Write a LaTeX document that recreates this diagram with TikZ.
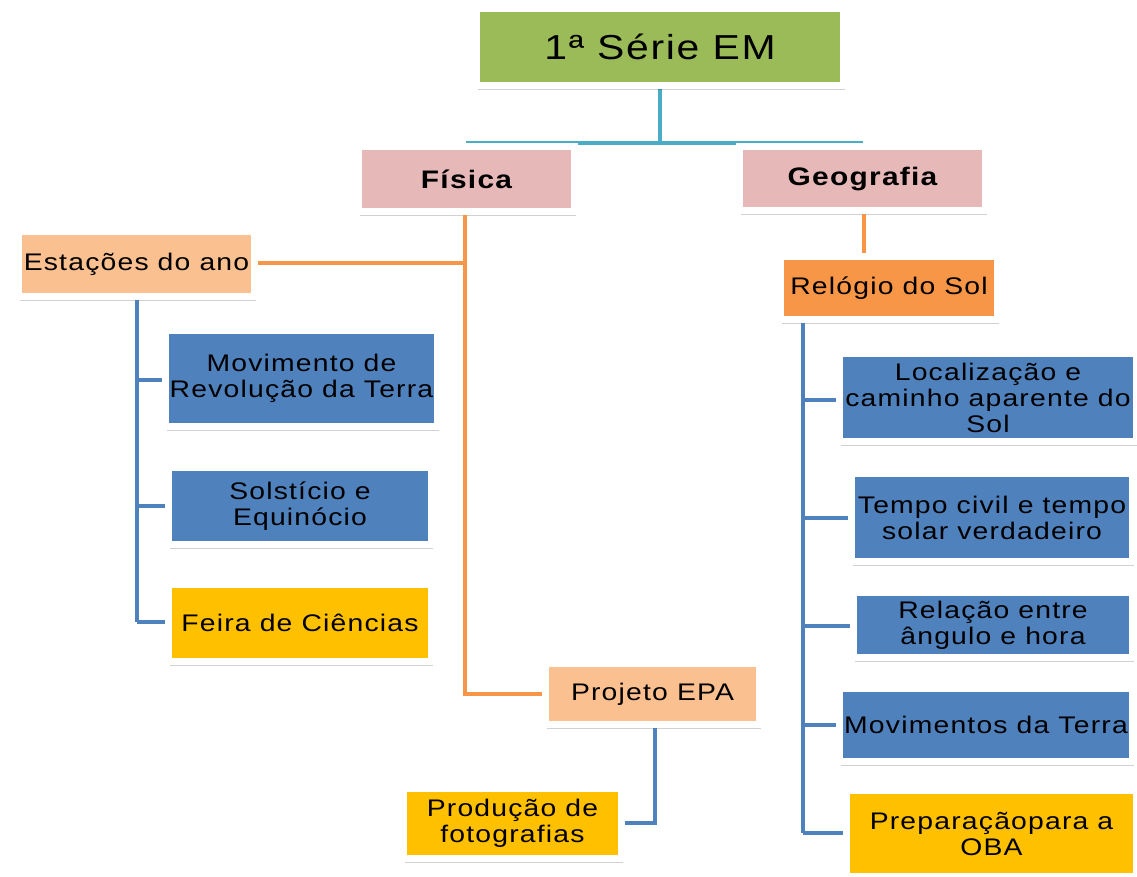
\documentclass[tikz,border=0pt]{standalone}
\usepackage{fontspec}
\setmainfont[FakeStretch=1.18,LetterSpace=5]{Liberation Sans}
\usetikzlibrary{shadows}
\definecolor{cgreen}{HTML}{9BBB59}
\definecolor{cpink}{HTML}{E6B9B8}
\definecolor{clorange}{HTML}{FAC090}
\definecolor{corange}{HTML}{F79646}
\definecolor{cblue}{HTML}{4F81BD}
\definecolor{cyellow}{HTML}{FFC000}
\definecolor{cteal}{HTML}{4BACC6}
\tikzset{
  box/.style={draw=white, line width=5.25pt, inner sep=0pt, align=center,
    font=\fontsize{18}{19.5}\selectfont,
    drop shadow={shadow xshift=0.8pt, shadow yshift=-3.6pt, opacity=0.18, fill=black}},
  sz/.style n args={2}{minimum width={(#1-7)*0.75pt}, minimum height={(#2-7)*0.75pt}},
  tealline/.style={draw=cteal, line width=3.5pt},
  orline/.style={draw=corange, line width=3pt},
  blline/.style={draw=cblue, line width=3.3pt}}
\begin{document}
\begin{tikzpicture}[x=0.75pt,y=-0.75pt]
\useasboundingbox (0,0) rectangle (1137,876);
\begin{scope}
\clip (0,0) rectangle (1137,876);
% connector coordinates
\coordinate (hl) at (466,143);
\coordinate (hr) at (863,143);
\draw[tealline] (660,89) -- (660,143);
\draw[tealline] (hl) -- (hr);

\node[box, sz={374}{84}, fill=cgreen, font=\fontsize{26}{28}\selectfont] (top) at (660,47) {1ª Série EM};
\node[box, sz={223}{72}, fill=cpink, font=\fontsize{19}{21}\selectfont\bfseries] (fis) at (466.5,179) {Física};
\node[box, sz={253}{71}, fill=cpink, font=\fontsize{19}{21}\selectfont\bfseries] (geo) at (862.5,178.5) {Geografia};

% Fisica branch
\coordinate (fj) at (465,263);
\coordinate (fe) at (465,694);
\draw[orline] (fis.south -| fj) -- (fe) -- (545,694);
\draw[orline] (258,263) -- (fj);

\node[box, sz={243}{72}, fill=clorange] (est) at (136.5,264) {Estações do ano};
\node[box, sz={221}{68}, fill=clorange] (epa) at (652.5,694) {Projeto EPA};

% Estacoes children
\coordinate (eb) at (137,622);
\draw[blline] (137,300) -- (eb);
\draw[blline] (137,380) -- (165,380);
\draw[blline] (137,506) -- (168,506);
\draw[blline] (137,622) -- (168,622);

\node[box, sz={279}{103}, fill=cblue] (mov) at (301.5,378.5) {Movimento de\\Revolução da Terra};
\node[box, sz={270}{84}, fill=cblue] (sol) at (300,506) {Solstício e\\Equinócio};
\node[box, sz={270}{84}, fill=cyellow] (fei) at (300,623) {Feira de Ciências};

% Projeto EPA child
\draw[blline] (655,728) -- (655,823) -- (622,823);
\node[box, sz={225}{77}, fill=cyellow] (pro) at (512.5,823.5) {Produção de\\fotografias};

% Geografia branch
\draw[orline] (geo.south -| 864,0) -- (864,256);
\node[box, sz={224}{70}, fill=corange] (rel) at (889,288) {Relógio do Sol};

\draw[blline] (803,323) -- (803,833);
\draw[blline] (803,400) -- (840,400);
\draw[blline] (803,518) -- (852,518);
\draw[blline] (803,626) -- (854,626);
\draw[blline] (803,725) -- (840,725);
\draw[blline] (803,833) -- (847,833);

\node[box, sz={304}{95}, fill=cblue] (loc) at (988,397.5) {Localização e\\caminho aparente do\\Sol};
\node[box, sz={288}{95}, fill=cblue] (tem) at (992,517.5) {Tempo civil e tempo\\solar verdadeiro};
\node[box, sz={286}{72}, fill=cblue] (rla) at (993,625) {Relação entre\\ângulo e hora};
\node[box, sz={300}{80}, fill=cblue] (mvt) at (986,725) {Movimentos da Terra};
\node[box, sz={297}{93}, fill=cyellow] (prp) at (991.5,833.5) {Preparaçãopara a\\OBA};
\end{scope}
\end{tikzpicture}
\end{document}
